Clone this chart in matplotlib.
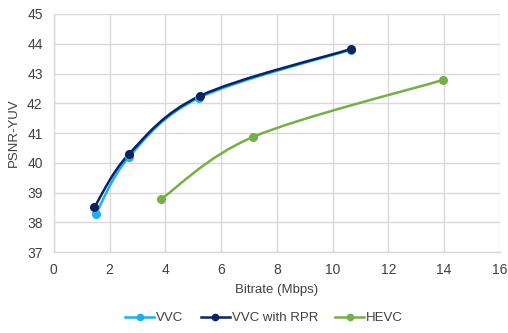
import numpy as np
import matplotlib
matplotlib.use("Agg")
import matplotlib.pyplot as plt
from matplotlib.path import Path
from matplotlib.patches import PathPatch

plt.rcParams['font.family'] = ['Liberation Sans', 'DejaVu Sans']

series = ["VVC", "VVC with RPR", "HEVC"]
vvc_x = [1.5, 2.7, 5.2, 10.65]
vvc_y = [38.27, 40.2, 42.18, 43.8]
rpr_x = [1.45, 2.7, 5.25, 10.65]
rpr_y = [38.5, 40.3, 42.25, 43.82]
hevc_x = [3.85, 7.15, 13.95]
hevc_y = [38.78, 40.87, 42.78]
colors = ["#1CB0EC", "#0B2363", "#74B043"]


# Excel-style smoothed line: cubic bezier through the points
def smooth_path(xs, ys, t=1/6):
    pts = np.column_stack([xs, ys])
    verts = [pts[0]]
    codes = [Path.MOVETO]
    n = len(pts)
    for i in range(n - 1):
        p0 = pts[i - 1] if i > 0 else pts[i]
        p1 = pts[i]
        p2 = pts[i + 1]
        p3 = pts[i + 2] if i + 2 < n else pts[i + 1]
        c1 = p1 + (p2 - p0) * t
        c2 = p2 - (p3 - p1) * t
        verts += [c1, c2, p2]
        codes += [Path.CURVE4] * 3
    return Path(verts, codes)


fig = plt.figure(figsize=(5.08, 3.33), dpi=100)
ax = fig.add_axes([0.106, 0.243, 0.878, 0.715])

data = [(vvc_x, vvc_y), (rpr_x, rpr_y), (hevc_x, hevc_y)]
for (xs, ys), name, c in zip(data, series, colors):
    ax.add_patch(PathPatch(smooth_path(xs, ys), fill=False, edgecolor=c, lw=1.8, zorder=3))
    ax.plot(xs, ys, linestyle='none', marker='o', ms=5.5, color=c, zorder=4)
    ax.plot([], [], color=c, lw=1.8, marker='o', ms=4.5, label=name)

ax.set_xlim(0, 16)
ax.set_ylim(37, 45)
ax.set_xticks(range(0, 17, 2))
ax.set_yticks(range(37, 46))
ax.grid(True, color='#D9D9D9', lw=1)
ax.set_axisbelow(True)
for s in ['top', 'right']:
    ax.spines[s].set_visible(False)
for s in ['left', 'bottom']:
    ax.spines[s].set_color('#D9D9D9')
    ax.spines[s].set_linewidth(1)
ax.tick_params(length=0, labelsize=10, colors='#404040', pad=8)
ax.set_xlabel('Bitrate (Mbps)', fontsize=9.5, color='#404040', labelpad=5)
ax.set_ylabel('PSNR-YUV', fontsize=9.5, color='#404040', labelpad=5)

fig.legend(loc='lower center', bbox_to_anchor=(0.52, -0.01), ncol=3, frameon=False,
           fontsize=9.5, handlelength=2.2, columnspacing=1.3, handletextpad=0.15,
           labelcolor='#404040')

fig.savefig('out.png', dpi=100, facecolor='white')
